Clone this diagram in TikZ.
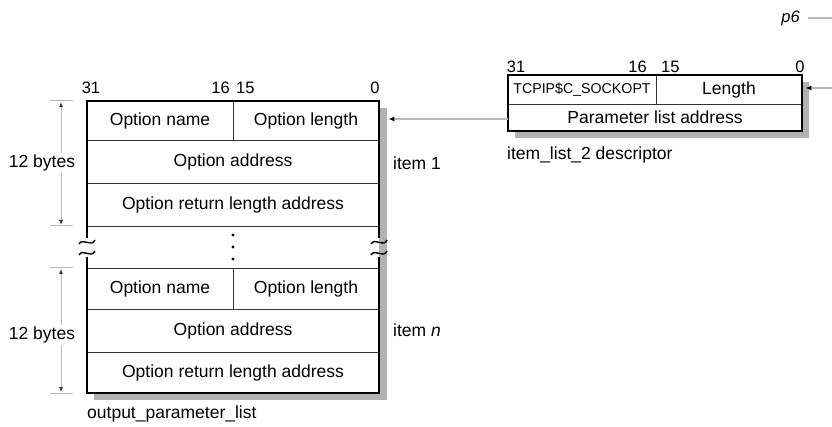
\documentclass[tikz,border=0pt]{standalone}
\usepackage{fontspec}
\setmainfont{Liberation Sans}
\usetikzlibrary{arrows.meta}
\definecolor{shadowc}{gray}{0.70}
\definecolor{connc}{gray}{0.72}
\begin{document}
\begin{tikzpicture}[x=1pt,y=-1pt,
  txt/.style={inner sep=0pt,font=\fontsize{17.5}{20}\selectfont},
  cell/.style={txt,draw=black!80,line width=0.8pt},
  bits/.style={inner sep=0pt,font=\fontsize{16.5}{19}\selectfont},
  border/.style={line width=1.7pt,black},
  dim/.style={draw=connc,line width=1pt},
  dimarrow/.style={connc,line width=1pt,{Latex[length=5pt,width=4pt,color=black!80]}-{Latex[length=5pt,width=4pt,color=black!80]}},
  conn/.style={connc,line width=1.6pt,-{Latex[length=6pt,width=5pt,color=black]}},
  tilde/.style={line width=1.4pt,black}]
\useasboundingbox (0,0) rectangle (832,427);

% ---------- main list ----------
\fill[shadowc] (94,108) rectangle (387,400);
\fill[white] (87,101) rectangle (379,393);
% item 1
\node[cell,minimum width=146pt,minimum height=39pt] (n1) at (160,120.5) {Option name};
\node[cell,minimum width=146pt,minimum height=39pt] (l1) at (306,120.5) {Option length};
\node[cell,minimum width=292pt,minimum height=43pt] (a1) at (233,161.5) {Option address};
\node[cell,minimum width=292pt,minimum height=43pt] (r1) at (233,204.5) {Option return length address};
% item n
\node[cell,minimum width=146pt,minimum height=41pt] (n2) at (160,288.5) {Option name};
\node[cell,minimum width=146pt,minimum height=41pt] (l2) at (306,288.5) {Option length};
\node[cell,minimum width=292pt,minimum height=43pt] (a2) at (233,330.5) {Option address};
\node[cell,minimum width=292pt,minimum height=41pt] (r2) at (233,372.5) {Option return length address};
% outline
\draw[border] (87,238) -- (87,101) -- (379,101) -- (379,238);
\draw[border] (87,257) -- (87,393) -- (379,393) -- (379,257);
% break marks
\foreach \xx in {87,379}{
  \draw[tilde] (\xx-8,244) .. controls (\xx-4,237) and (\xx+4,248) .. (\xx+8,240);
  \draw[tilde] (\xx-8,255) .. controls (\xx-4,248) and (\xx+4,259) .. (\xx+8,251);
}
% dots
\foreach \yy in {235,247,259} \fill (233,\yy) circle (1.6pt);

% bit numbers
\node[bits] (b31) at (91,88) {31};
\node[bits,anchor=east] (b16) at (230,88) {16};
\node[bits,anchor=west] (b15) at (236,88) {15};
\node[bits] (b0) at (375,88) {0};

% 12 bytes dimensions
\draw[dim] (50,101) -- (73,101);
\draw[dim] (50,226) -- (73,226);
\draw[dimarrow] (61,102) -- (61,225);
\node[txt,fill=white,inner ysep=2pt] (d1) at (42,163) {12 bytes};
\draw[dim] (50,268) -- (73,268);
\draw[dim] (50,393) -- (73,393);
\draw[dimarrow] (61,269) -- (61,392);
\node[txt,fill=white,inner ysep=2pt] (d2) at (42,335) {12 bytes};

\node[txt,anchor=west] (it1) at (393,163) {item 1};
\node[txt,anchor=west] (itn) at (393,330) {item \textit{n}};
\node[txt,anchor=west] (opl) at (87,414) {output\_parameter\_list};

% ---------- descriptor ----------
\fill[shadowc] (515,82) rectangle (809,138);
\fill[white] (508,75) rectangle (802,131);
\node[cell,font=\fontsize{14.2}{16}\selectfont,minimum width=148pt,minimum height=29pt] (tc) at (582,89.5) {TCPIP\$C\_SOCKOPT};
\node[cell,minimum width=146pt,minimum height=29pt] (len) at (729,89.5) {Length};
\node[cell,minimum width=294pt,minimum height=27pt] (pla) at (655,117.5) {Parameter list address};
\draw[border] (508,75) rectangle (802,131);

\node[bits] (c31) at (516,67) {31};
\node[bits,anchor=east] (c16) at (647,67) {16};
\node[bits,anchor=west] (c15) at (661,67) {15};
\node[bits] (c0) at (800,67) {0};
\node[txt,anchor=west] (ild) at (507,155) {item\_list\_2 descriptor};

% p6
\node[txt,font=\fontsize{16.5}{19}\selectfont\itshape,anchor=east] (p6) at (800,18) {p6};
\coordinate (p6end) at (832,18);
\draw[connc,line width=1.4pt] ([xshift=8pt]p6.east) -- (p6end);

% connectors
\coordinate (inR) at (832,88);
\draw[conn] (inR) -- ([xshift=3pt]len.east |- inR);
\draw[conn] ([yshift=-1.5pt]pla.west) -- ([xshift=9pt,yshift=-1.5pt]l1.east |- pla.west);
\end{tikzpicture}
\end{document}
